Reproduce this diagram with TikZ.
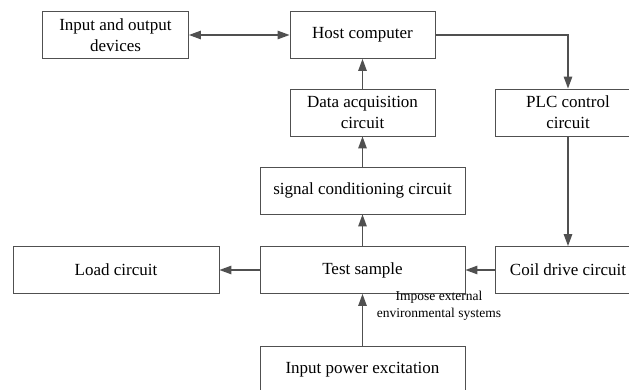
\documentclass[tikz,border=0pt]{standalone}
\usepackage{fontspec}
\setmainfont{Liberation Serif}
\usetikzlibrary{arrows.meta}
\definecolor{ln}{HTML}{505050}
\begin{document}
\begin{tikzpicture}[x=1pt,y=-1pt,
  blk/.style={draw=ln,line width=0.9pt,minimum height=47pt,inner sep=2pt,align=center,
    font=\fontsize{17}{21}\selectfont},
  tip/.tip={Triangle[length=12pt,width=8.5pt]},
  conn/.style={draw=ln,line width=1.3pt,-tip}]
\useasboundingbox (0,0) rectangle (629,390);
\node[blk,minimum width=146pt] (io) at (115.5,35) {Input and output\\devices};
\node[blk,minimum width=145pt] (host) at (362.5,35) {Host computer};
\node[blk,minimum width=145pt] (daq) at (362.5,112.5) {Data acquisition\\circuit};
\node[blk,minimum width=146pt] (plc) at (568,112.5) {PLC control\\circuit};
\node[blk,minimum width=205pt] (sig) at (362.5,190.5) {signal conditioning circuit};
\node[blk,minimum width=205pt] (test) at (362.5,270) {Test sample};
\node[blk,minimum width=206pt] (load) at (116,270) {Load circuit};
\node[blk,minimum width=146pt] (coil) at (568,270) {Coil drive circuit};
\node[blk,minimum width=205pt] (pwr) at (362.5,369.5) {Input power excitation};
\node[align=center,inner sep=0pt,font=\fontsize{13.5}{16.5}\selectfont] (lbl) at (439,306) {Impose external\\environmental systems};
\draw[conn,tip-tip] (io.east) -- (host.west);
\draw[conn] (daq.north) -- (host.south);
\draw[conn] (sig.north) -- (daq.south);
\draw[conn] (test.north) -- (sig.south);
\draw[conn] (pwr.north) -- (test.south);
\draw[conn] (test.west) -- (load.east);
\draw[conn] (coil.west) -- (test.east);
\draw[conn] (host.east) -| (plc.north);
\draw[conn] (plc.south) -- (coil.north);
\end{tikzpicture}
\end{document}
